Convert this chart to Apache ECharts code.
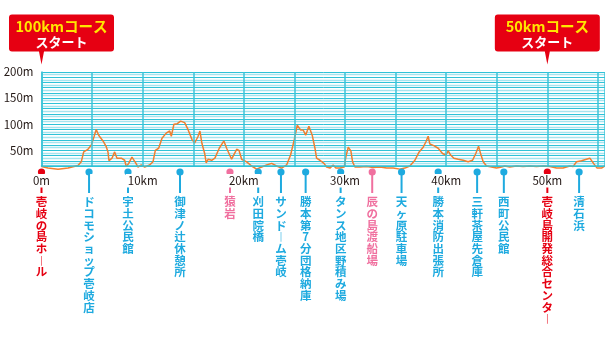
<!DOCTYPE html>
<html><head><meta charset="utf-8">
<script src="https://cdn.jsdelivr.net/npm/echarts@6/dist/echarts.min.js"></script>
<style>html,body{margin:0;padding:0;background:#fff}#c{width:605px;height:346px}</style>
</head><body><div id="c"></div>
<script>
// Elevation profile: distance (km) and altitude (m)
const profileKm = [0,0.64,1.63,2.62,3.61,3.93,4.17,4.59,4.92,5.19,5.41,5.65,6.08,6.40,6.57,6.67,6.97,7.23,7.46,7.89,8.22,8.38,8.62,8.94,9.31,9.54,9.86,10.20,10.69,11.02,11.25,11.58,11.91,12.33,12.67,12.83,13.09,13.42,13.75,14.15,14.48,14.87,15.14,15.46,15.66,15.86,16.13,16.28,16.48,16.82,17.14,17.57,18.03,18.30,18.79,19.29,19.52,19.78,20.28,20.77,21.26,21.76,22.25,22.75,23.24,23.74,24.23,24.62,24.98,25.28,25.61,25.87,26.11,26.43,26.76,27.03,27.19,27.52,27.92,28.18,28.51,28.83,29.10,29.50,29.92,30.09,30.32,30.58,30.75,30.98,31.47,32.13,32.79,33.45,34.11,34.76,35.42,35.92,36.41,36.91,37.33,37.73,37.99,38.22,38.39,38.78,39.21,39.64,39.97,40.20,40.44,40.76,41.19,41.68,42.17,42.61,42.93,43.20,43.40,43.66,43.99,44.49,44.98,45.47,45.80,46.29,46.96,47.61,48.27,48.93,49.58,50.25,50.91,51.56,52.22,52.55,52.88,53.38,53.87,54.20,54.60,54.92,55.36,55.68];
const profileM = [19,16,14,16,21,28,47,52,60,76,90,79,68,57,47,30,35,47,35,35,31,19,25,37,26,18,22,18,22,28,50,54,73,83,87,77,100,101,106,103,90,71,64,76,87,63,44,26,33,31,35,54,68,54,33,52,50,33,28,20,14,18,22,25,20,16,22,41,70,98,89,89,79,96,79,54,35,31,25,18,16,22,16,16,18,38,56,49,28,18,18,19,17,18,16,16,14,16,20,31,47,56,66,77,62,59,54,44,41,49,41,35,33,31,28,31,44,58,44,28,20,18,16,18,20,18,20,19,20,19,20,19,16,16,20,19,28,30,33,35,24,16,16,20];

// Stations along the course
const stationNames = ['壱岐の島ホール','ドコモショップ壱岐店','宇土公民館','御津ノ辻休憩所','猿岩','刈田院橋','サンドーム壱岐','勝本第7分団格納庫','タンス地区野積み場','辰の島渡船場','天ヶ原駐車場','勝本消防出張所','三軒茶屋先倉庫','西町公民館','壱岐島開発総合センター','清石浜'];
const stationKm = [0,4.7,8.55,13.69,18.63,21.42,23.67,26.11,29.57,32.69,35.59,39.21,43.06,45.7,50,53.14];
const stationKinds = ['start','point','point','point','sight','point','point','point','point','sight','point','point','point','point','start','point'];

// Start flags
const flagKm = [0, 50];
const flagTitles = ['100kmコース', '50kmコース'];
const flagSub = ['スタート', 'スタート'];

// Axis ticks
const yTickLabels = [50, 100, 150, 200];
const xTickLabels = {0:'0m',10:'10km',20:'20km',30:'30km',40:'40km',50:'50km'};

const kindColor = {start:'#e60012', point:'#1eaadf', sight:'#f0709f'};
const FONT = '"Noto Sans CJK JP","Noto Sans",sans-serif';
const vert = s => s.split('').map(ch => ch === 'ー' ? '︱' : ch).join('\n');

const chart = echarts.init(document.getElementById('c'), null, {renderer:'canvas'});

const flagPath = (tipX) => {
  const w = 105, h = 37, H = 50, r = 3;
  return 'path://M' + r + ' 0H' + (w - r) + 'Q' + w + ' 0 ' + w + ' ' + r + 'V' + (h - r) + 'Q' + w + ' ' + h + ' ' + (w - r) + ' ' + h +
    'H' + (tipX + 2.5) + 'L' + tipX + ' ' + H + 'L' + (tipX - 2.5) + ' ' + h + 'H' + r + 'Q0 ' + h + ' 0 ' + (h - r) + 'V' + r + 'Q0 0 ' + r + ' 0Z';
};
const flagTip = [32.5, 52.5];

chart.setOption({
  animation: false,
  grid: {left: 41.5, right: 0, top: 72, bottom: 180, containLabel: false},
  xAxis: {
    type: 'value', min: 0, max: 55.7, interval: 5, z: 10,
    axisLine: {show: true, lineStyle: {color: '#2cc2d6', width: 1.5}},
    axisTick: {show: false},
    splitLine: {show: true, lineStyle: {color: '#3cc4d8', width: 1.5}},
    axisLabel: {
      margin: 8, fontSize: 11.5, color: '#231815', fontFamily: FONT,
      backgroundColor: '#fff', padding: [1, 2],
      formatter: v => (xTickLabels[v] !== undefined ? xTickLabels[v] : ''),
      showMaxLabel: false
    }
  },
  yAxis: {
    type: 'value', min: 20, max: 200, interval: 10,
    axisLine: {show: true, lineStyle: {color: '#3cc4d8', width: 1.5}},
    axisTick: {show: false},
    splitLine: {show: true, lineStyle: {color: '#2fc2d7', width: 1}},
    minorTick: {show: false, splitNumber: 2},
    minorSplitLine: {show: true, lineStyle: {color: '#a6e4ee', width: 1.3}},
    axisLabel: {
      margin: 8, fontSize: 11.5, color: '#231815', fontFamily: FONT,
      formatter: v => (yTickLabels.indexOf(v) >= 0 ? v + 'm' : '')
    }
  },
  series: [
    {
      type: 'line', data: profileKm.map((k, i) => [k, profileM[i]]),
      symbol: 'none', clip: false, z: 5,
      lineStyle: {color: '#f07f30', width: 1.5},
      markPoint: {
        silent: true,
        data: flagKm.map((k, i) => ({
          coord: [k, 200],
          symbol: flagPath(flagTip[i]),
          symbolSize: [105, 50],
          symbolOffset: [52.5 - flagTip[i], -25 - 7.5],
          itemStyle: {color: '#e60012'},
          label: {
            show: true, position: 'inside', offset: [0, -5.5],
            formatter: '{a|' + flagTitles[i] + '}\n{b|' + flagSub[i] + '}',
            rich: {
              a: {color: '#ffe600', fontSize: 14.5, fontWeight: 'bold', fontFamily: FONT, lineHeight: 16},
              b: {color: '#ffffff', fontSize: 13, fontWeight: 'bold', fontFamily: FONT, lineHeight: 15}
            }
          }
        }))
      }
    },
    {
      type: 'custom', z: 6, clip: false,
      data: stationKm.map(k => [k, 20]),
      renderItem: (params, api) => {
        const i = params.dataIndex;
        const p = api.coord([api.value(0), api.value(1)]);
        const col = kindColor[stationKinds[i]];
        return {type: 'group', children: [
          {type: 'line', shape: {x1: p[0], y1: p[1] + 6, x2: p[0], y2: p[1] + 27}, style: {stroke: col, lineWidth: 2}},
          {type: 'circle', shape: {cx: p[0], cy: p[1] + 6, r: 3.6}, style: {fill: col}},
          {type: 'text', x: p[0], y: p[1] + 30, style: {
            text: vert(stationNames[i]), fill: col, fontSize: 11.5, fontWeight: 'bold',
            fontFamily: FONT, align: 'center', verticalAlign: 'top', lineHeight: 11.7
          }}
        ]};
      }
    }
  ]
});
</script>
</body></html>
